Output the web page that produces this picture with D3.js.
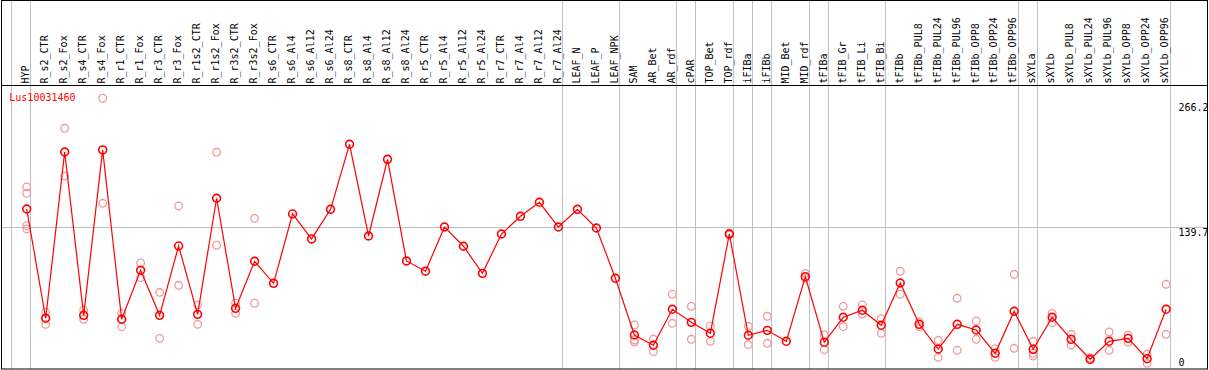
<!DOCTYPE html>
<html>
<head>
<meta charset="utf-8">
<script src="https://cdn.jsdelivr.net/npm/d3@7"></script>
<style>
  html, body { margin: 0; padding: 0; background: #fff; }
  svg { display: block; }
  text { font-family: "DejaVu Sans Mono", "Liberation Mono", monospace; font-size: 10px; }
</style>
</head>
<body>
<svg id="chart" width="1209" height="370"></svg>
<script>
const categories = ["HYP","R_s2_CTR","R_s2_Fox","R_s4_CTR","R_s4_Fox","R_r1_CTR","R_r1_Fox","R_r3_CTR","R_r3_Fox",
  "R_r1s2_CTR","R_r1s2_Fox","R_r3s2_CTR","R_r3s2_Fox","R_s6_CTR","R_s6_Al4","R_s6_Al12","R_s6_Al24",
  "R_s8_CTR","R_s8_Al4","R_s8_Al12","R_s8_Al24","R_r5_CTR","R_r5_Al4","R_r5_Al12","R_r5_Al24",
  "R_r7_CTR","R_r7_Al4","R_r7_Al12","R_r7_Al24","LEAF_N","LEAF_P","LEAF_NPK","SAM","AR_Bet","AR_rdf",
  "cPAR","TOP_Bet","TOP_rdf","iFIBa","iFIBb","MID_Bet","MID_rdf","tFIBa","tFIB_Gr","tFIB_Li","tFIB_Bi",
  "tFIBb","tFIBb_PUL8","tFIBb_PUL24","tFIBb_PUL96","tFIBb_OPP8","tFIBb_OPP24","tFIBb_OPP96",
  "sXYLa","sXYLb","sXYLb_PUL8","sXYLb_PUL24","sXYLb_PUL96","sXYLb_OPP8","sXYLb_OPP24","sXYLb_OPP96"];

const meanValues = [158.9,48.3,216.6,51.3,218.7,47.3,96.9,51.3,121.5,
  52.3,169.8,58.4,106.0,83.7,153.9,128.6,158.6,
  224.4,131.6,209.2,106.3,95.9,140.7,121.2,93.8,
  133.6,151.5,165.7,140.7,158.6,139.7,88.8,31.4,21.0,57.4,
  44.2,33.1,133.6,31.1,36.1,25.0,90.4,24.0,49.3,56.4,41.2,
  84.0,42.2,17.2,42.2,36.4,12.9,55.4,
  16.9,49.3,27.0,6.8,25.0,28.0,7.4,57.4];

const replicateValues = [
  [181.2,174.8,142.0,138.7],[54.4,48.3,42.2],[240.6,192.3],[56.7,47.3],[271.0,164.7],[53.3,39.8],[104.3,89.4],[74.6,28.0],[162.0,81.7],
  [61.8,42.2],[216.3,122.2],[63.5,53.3],[149.5,63.5],[],[],[],[],
  [],[],[],[],[],[],[],[],
  [],[],[],[],[],[],[],[41.5,26.3,24.3],[27.3,14.5],[72.6,43.2],
  [60.4,27.0],[40.5,25.0],[134.6,132.6],[40.2,21.6],[50.3,23.0],[],[93.8,88.8],[31.4,16.5],[60.4,39.8],[61.8,52.3],[47.9,33.1],
  [95.9,72.6],[44.8,39.8],[26.0,8.8],[68.5,15.9],[45.6,27.0],[17.5,8.8],[92.8,17.9],
  [25.0,12.9,10.1],[53.3,43.8],[32.1,21.3],[8.4,6.1],[34.4,15.9],[31.4,24.3],[12.1,2.7],[82.7,32.1]
];

const groupEnds = [-1,0,28,31,34,35,37,38,39,41,42,45,52,53,60];
const yTicks = [266.2, 139.7, 0];
const geneLabel = "Lus10031460";

const W = 1209, H = 370;
const svg = d3.select("#chart");

const x = d3.scaleLinear().domain([0, categories.length - 1]).range([26.7, 1166.1]);
const y = d3.scaleLinear().domain([0, 266.2]).range([366, 103]);
const crisp = v => Math.floor(v) + 0.5;

// vertical group separators
svg.append("g").selectAll("line").data(groupEnds).join("line")
  .attr("x1", d => crisp(x(d) + 4)).attr("x2", d => crisp(x(d) + 4))
  .attr("y1", 0).attr("y2", 369)
  .attr("stroke", "#c0c0c0").attr("stroke-width", 1);

// horizontal gridline at middle tick
svg.append("line")
  .attr("x1", 2).attr("x2", 1207)
  .attr("y1", crisp(y(139.7)) - 0).attr("y2", crisp(y(139.7)))
  .attr("stroke", "#c0c0c0").attr("stroke-width", 1);

// frame
svg.append("rect").attr("x", 1.5).attr("y", 0.5).attr("width", 1206).attr("height", 368.5)
  .attr("fill", "none").attr("stroke", "#000").attr("stroke-width", 1);
svg.append("line").attr("x1", 1.5).attr("x2", 1207.5).attr("y1", 85.5).attr("y2", 85.5)
  .attr("stroke", "#000").attr("stroke-width", 1);

// category labels
svg.append("g").selectAll("text").data(categories).join("text")
  .attr("transform", (d, i) => `translate(${x(i) + 2.3},83.5) rotate(-90)`)
  .attr("text-anchor", "start")
  .attr("fill", "#000")
  .text(d => d);

// right axis labels
svg.append("g").selectAll("text").data(yTicks).join("text")
  .attr("x", 1178.5)
  .attr("y", d => d === 0 ? y(d) - 0.3 : y(d) + 8)
  .attr("fill", "#000")
  .text(d => d === 0 ? "0" : d.toFixed(1));

// gene label
svg.append("text").attr("x", 9.3).attr("y", 100.5).attr("fill", "#ff0000").text(geneLabel);

// replicate points
const reps = [];
replicateValues.forEach((arr, i) => arr.forEach(v => reps.push({i, v})));
svg.append("g").selectAll("circle").data(reps).join("circle")
  .attr("cx", d => x(d.i)).attr("cy", d => y(d.v)).attr("r", 3.8)
  .attr("fill", "none").attr("stroke", "#f09a9a").attr("stroke-width", 1.3);

// mean line
const line = d3.line().x((d, i) => x(i)).y(d => y(d));
svg.append("path").datum(meanValues).attr("d", line)
  .attr("fill", "none").attr("stroke", "#ff0000").attr("stroke-width", 1.2);

// mean points
svg.append("g").selectAll("circle").data(meanValues).join("circle")
  .attr("cx", (d, i) => x(i)).attr("cy", d => y(d)).attr("r", 3.9)
  .attr("fill", "none").attr("stroke", "#ff0000").attr("stroke-width", 1.6);
</script>
</body>
</html>
